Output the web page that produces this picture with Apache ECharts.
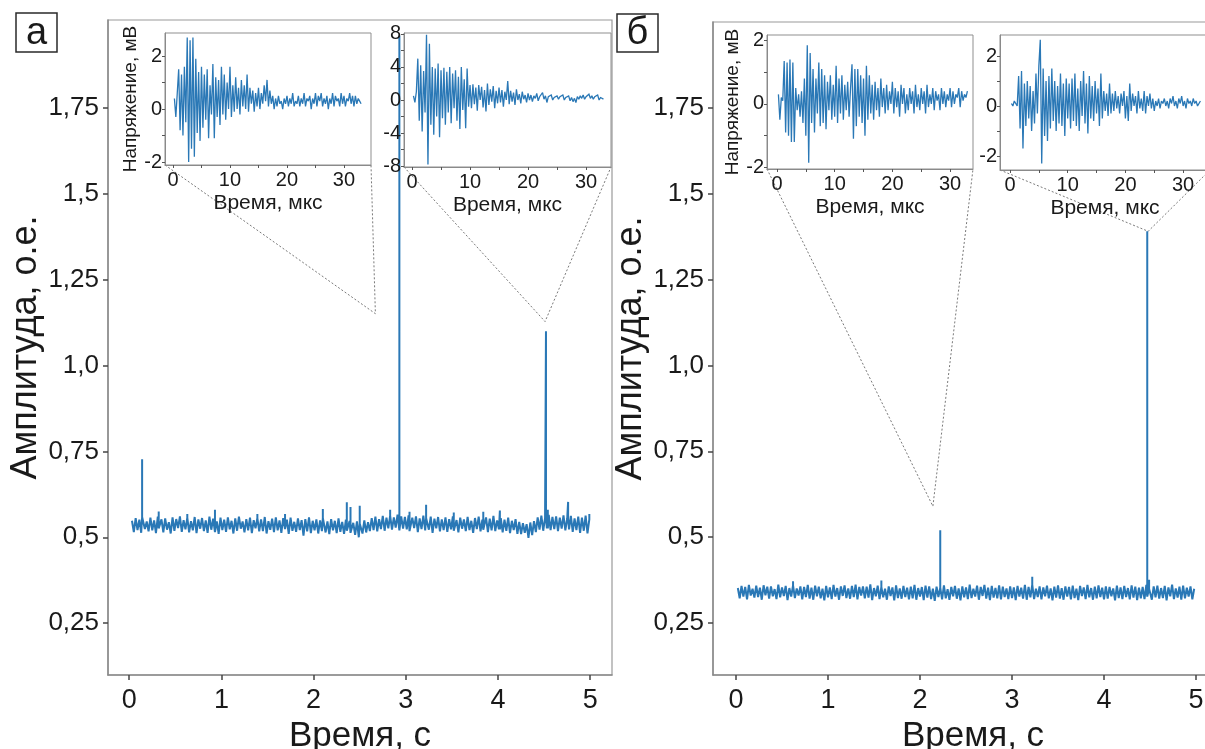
<!DOCTYPE html>
<html><head><meta charset="utf-8">
<script src="https://cdn.jsdelivr.net/npm/echarts@6/dist/echarts.min.js"></script>
<style>html,body{margin:0;padding:0;background:#fff}#c{width:1205px;height:749px}</style>
</head><body><div id="c"></div>
<script>
const FONT = "'Liberation Sans', Arial, sans-serif";
const TXT = '#1a1a1a';
const LINE = '#2a78b6';

// ---------- main traces (time in s, amplitude in a.u.) ----------
const timeStartA = 0.03, timeStepA = 0.02;
const amplitudeA = [
0.548,0.515,0.556,0.521,0.551,0.513,0.559,0.524,0.546,0.517,
0.557,0.520,0.549,0.512,0.560,0.526,0.552,0.514,0.555,0.522,
0.544,0.511,0.558,0.519,0.553,0.527,0.561,0.516,0.550,0.523,
0.557,0.514,0.547,0.520,0.559,0.512,0.552,0.525,0.556,0.518,
0.549,0.513,0.560,0.522,0.554,0.515,0.546,0.510,0.557,0.521,
0.551,0.516,0.558,0.523,0.548,0.511,0.555,0.519,0.560,0.525,
0.546,0.514,0.553,0.520,0.557,0.512,0.550,0.526,0.556,0.517,
0.552,0.518,0.559,0.511,0.547,0.522,0.554,0.515,0.558,0.520,
0.549,0.513,0.556,0.524,0.551,0.510,0.557,0.519,0.545,0.516,
0.555,0.521,0.550,0.505,0.553,0.517,0.558,0.512,0.548,0.520,
0.552,0.511,0.549,0.518,0.556,0.514,0.546,0.509,0.553,0.520,
0.548,0.512,0.555,0.516,0.545,0.510,0.551,0.519,0.547,0.513,
0.542,0.507,0.546,0.500,0.540,0.511,0.549,0.514,0.544,0.518,
0.556,0.521,0.560,0.517,0.553,0.524,0.562,0.519,0.557,0.526,
0.563,0.522,0.558,0.528,0.566,0.520,0.561,0.525,0.559,0.523,
0.564,0.518,0.557,0.527,0.561,0.515,0.555,0.524,0.563,0.520,
0.556,0.522,0.560,0.513,0.554,0.526,0.559,0.517,0.552,0.521,
0.558,0.516,0.553,0.523,0.561,0.519,0.550,0.514,0.557,0.525,
0.552,0.518,0.559,0.521,0.548,0.513,0.556,0.524,0.560,0.517,
0.551,0.522,0.558,0.515,0.554,0.520,0.562,0.518,0.549,0.523,
0.556,0.514,0.551,0.519,0.557,0.512,0.548,0.521,0.553,0.510,
0.545,0.509,0.541,0.513,0.538,0.498,0.543,0.506,0.547,0.515,
0.558,0.522,0.563,0.519,0.556,0.526,0.565,0.521,0.559,0.524,
0.561,0.518,0.557,0.525,0.564,0.520,0.554,0.523,0.562,0.516,
0.555,0.521,0.560,0.513,0.557,0.519,0.563,0.511,0.552
];
const spikeTimesA = [0.14, 0.32, 0.63, 0.93, 1.39, 1.69, 2.10, 2.36, 2.40, 2.50, 2.83, 2.93, 3.04, 3.22, 3.52, 3.84, 4.02, 4.52, 4.54, 4.76, 4.99];
const spikePeaksA = [0.727, 0.575, 0.568, 0.580, 0.568, 0.568, 0.582, 0.602, 0.588, 0.592, 0.580, 1.960, 0.574, 0.595, 0.572, 0.574, 0.578, 1.100, 0.580, 0.603, 0.568];

const timeStartB = 0.02, timeStepB = 0.02;
const amplitudeB = [
0.352,0.322,0.358,0.327,0.355,0.319,0.361,0.330,0.350,0.324,
0.359,0.326,0.353,0.318,0.360,0.331,0.356,0.321,0.357,0.328,
0.349,0.320,0.362,0.325,0.354,0.329,0.358,0.317,0.352,0.327,
0.360,0.323,0.351,0.330,0.357,0.319,0.355,0.326,0.361,0.321,
0.353,0.318,0.359,0.328,0.356,0.322,0.350,0.316,0.358,0.325,
0.354,0.320,0.361,0.327,0.352,0.318,0.357,0.329,0.360,0.323,
0.351,0.321,0.358,0.326,0.362,0.319,0.355,0.330,0.357,0.322,
0.356,0.324,0.363,0.317,0.352,0.328,0.359,0.320,0.355,0.325,
0.350,0.318,0.357,0.329,0.354,0.316,0.360,0.323,0.351,0.321,
0.358,0.326,0.353,0.319,0.356,0.322,0.361,0.318,0.352,0.327,
0.355,0.317,0.359,0.324,0.357,0.320,0.350,0.315,0.356,0.326,
0.353,0.319,0.360,0.322,0.349,0.318,0.355,0.328,0.358,0.321,
0.351,0.316,0.357,0.325,0.354,0.320,0.362,0.323,0.350,0.327,
0.359,0.318,0.355,0.329,0.361,0.321,0.353,0.317,0.358,0.324,
0.352,0.322,0.360,0.319,0.356,0.326,0.351,0.320,0.357,0.323,
0.354,0.317,0.358,0.327,0.353,0.321,0.361,0.318,0.355,0.325,
0.362,0.320,0.350,0.326,0.357,0.319,0.354,0.328,0.359,0.322,
0.351,0.316,0.356,0.324,0.360,0.321,0.352,0.318,0.357,0.327,
0.355,0.319,0.359,0.323,0.350,0.317,0.358,0.329,0.354,0.320,
0.361,0.325,0.352,0.318,0.356,0.322,0.360,0.326,0.353,0.319,
0.357,0.321,0.355,0.328,0.351,0.316,0.359,0.323,0.354,0.320,
0.358,0.326,0.352,0.319,0.360,0.324,0.356,0.317,0.353,0.322,
0.355,0.320,0.361,0.327,0.350,0.318,0.357,0.325,0.359,0.321,
0.352,0.323,0.358,0.316,0.354,0.328,0.362,0.320,0.351,0.324,
0.356,0.318,0.359,0.322,0.353,0.327,0.357,0.319,0.350
];
const spikeTimesB = [0.62, 1.58, 2.22, 3.22, 4.47, 4.49];
const spikePeaksB = [0.372, 0.374, 0.520, 0.385, 1.390, 0.376];

// ---------- inset waveforms (time in µs, voltage in mV) ----------
const insetTimeStart = 0.25, insetTimeStep = 0.25;
const voltageA1 = [
0.4,-0.3,0.6,1.5,-0.8,1.3,-1.0,1.6,-0.5,2.7,
-2.0,2.6,-1.5,2.7,-1.8,1.9,-0.9,1.4,-1.2,1.6,
-0.7,1.3,-0.4,1.5,-1.1,0.9,-0.2,1.7,-1.1,1.2,
-0.3,1.1,-0.6,1.6,-0.2,1.3,-0.4,1.0,0.0,1.6,
-0.3,0.9,-0.1,1.2,0.0,0.8,-0.2,1.1,0.1,0.9,
0.0,1.3,-0.1,0.8,0.2,0.7,-0.1,0.6,0.1,0.8,
0.0,0.6,0.2,0.9,0.3,1.1,0.1,0.7,0.2,0.5,
0.0,0.4,0.1,0.5,0.2,0.3,0.0,0.4,0.2,0.5,
0.1,0.4,0.2,0.6,0.1,0.3,0.2,0.5,0.1,0.4,
0.2,0.6,0.1,0.4,0.3,0.5,0.0,0.4,0.2,0.6,
0.1,0.5,0.3,0.6,0.1,0.4,0.2,0.5,0.0,0.4,
0.2,0.6,0.1,0.5,0.3,0.4,0.1,0.6,0.2,0.5,
0.1,0.4,0.3,0.6,0.2,0.5,0.1,0.5,0.2,0.4,
0.3,0.2
];
const voltageA2 = [
0.5,-0.3,1.0,5.0,-2.5,4.2,-3.8,3.5,-1.5,7.9,
-7.8,6.8,-3.0,4.0,-4.2,3.8,-2.0,4.4,-4.5,3.6,
-2.2,3.9,-3.0,3.4,-1.5,4.0,-2.8,3.2,-1.0,3.6,
-2.5,2.8,-3.5,4.0,-1.2,2.5,-3.4,3.8,-0.8,1.8,
-1.0,1.9,-0.5,1.5,-1.3,1.8,0.0,1.6,-0.9,1.2,
-1.4,2.0,-0.6,1.3,-0.2,1.7,-1.0,1.1,-0.4,1.5,
-0.3,1.2,-0.8,1.0,0.0,2.3,-0.5,1.1,-0.2,0.9,
-0.6,1.3,0.0,0.7,-0.4,1.0,0.1,0.6,-0.3,0.8,
0.0,0.6,-0.2,0.5,0.2,0.8,-0.1,0.4,0.3,0.9,
0.1,0.5,-0.3,0.4,0.2,0.6,0.0,0.3,0.4,0.5,
0.1,0.4,0.2,0.6,0.0,0.3,0.2,0.5,-0.1,0.3,
-0.2,0.2,-0.3,0.4,0.1,0.5,0.2,0.6,0.1,0.4,
0.3,0.7,0.2,0.5,0.1,0.4,0.2,0.6,0.0,0.3,
0.2,0.1
];
const voltageB1 = [
0.3,-0.5,0.2,0.1,1.35,-0.9,1.3,-1.0,1.4,-1.2,
1.3,-1.2,0.5,-0.2,0.3,-0.4,0.4,-0.6,0.8,-1.0,
1.85,-1.85,1.6,-0.6,1.1,-0.9,0.8,-0.3,1.3,-0.7,
1.1,-0.6,0.9,-0.8,0.7,-0.2,0.9,-0.5,0.6,-0.4,
1.2,-0.6,0.8,-0.3,0.9,-0.5,0.6,-0.2,0.7,-0.4,
0.5,1.25,-1.1,1.1,-0.7,1.1,-0.4,0.9,-0.6,0.8,
-1.0,1.2,-0.5,0.9,-0.3,0.6,-0.5,0.7,-0.2,0.5,
-0.4,0.8,-0.1,0.5,-0.3,0.6,-0.2,0.4,0.0,0.7,
-0.3,0.5,-0.1,0.4,-0.4,0.6,0.0,0.5,-0.3,0.3,
-0.2,0.5,0.0,0.4,-0.3,0.6,-0.1,0.3,-0.2,0.5,
0.0,0.4,-0.3,0.6,-0.1,0.3,0.0,0.5,-0.2,0.4,
0.1,0.3,-0.2,0.5,0.0,0.4,-0.1,0.3,0.1,0.5,
-0.1,0.4,0.0,0.3,0.2,0.5,-0.1,0.4,0.1,0.3,
0.2,0.4
];
const voltageB2 = [
0.1,0.0,0.2,0.1,0.0,1.2,-0.9,1.4,-1.7,0.9,
-0.8,1.0,-0.5,0.8,-1.0,0.6,-0.7,1.3,-0.3,1.6,
2.65,-2.3,1.5,-1.2,1.0,-1.4,1.2,-0.9,1.5,-0.6,
1.0,-1.0,0.8,-0.7,1.3,-0.8,0.9,-1.2,1.1,-0.5,
0.9,-0.9,1.1,-0.6,1.3,-0.8,0.7,-1.0,1.0,-0.4,
1.4,-0.7,0.9,-1.1,1.2,-0.5,0.8,-0.6,1.0,-0.3,
0.7,-0.8,1.3,-0.5,0.6,-0.2,0.5,-0.4,0.9,-0.3,
0.5,-0.2,0.6,-0.1,0.4,-0.3,0.5,0.0,0.6,-0.5,
0.4,-0.6,0.9,-0.2,0.5,0.0,0.4,-0.3,0.6,-0.1,
0.3,-0.2,0.6,-0.3,0.4,0.0,0.5,-0.1,0.3,-0.2,
0.2,0.0,0.3,-0.1,0.2,0.1,0.3,0.0,0.2,-0.1,
0.3,0.1,0.4,0.0,0.2,-0.1,0.3,0.1,0.4,0.0,
0.2,-0.1,0.3,0.1,0.2,0.0,0.3,0.1,0.2,0.0,
0.1,0.2
];

// ---------- tick labels ----------
const mainXTicks = [0, 1, 2, 3, 4, 5];
const mainYTicks = [0.25, 0.5, 0.75, 1.0, 1.25, 1.5, 1.75];
const mainYTickLabels = ['0,25', '0,5', '0,75', '1,0', '1,25', '1,5', '1,75'];
const insetXLabels = [0, 10, 20, 30];
const insetXTicks = [0, 5, 10, 15, 20, 25, 30];
const insetA1YLabels = [-2, 0, 2];
const insetA1YTicks = [-2, -1, 0, 1, 2];
const insetA2YLabels = [-8, -4, 0, 4, 8];
const insetA2YTicks = [-8, -6, -4, -2, 0, 2, 4, 6, 8];
const insetB1YLabels = [-2, 0, 2];
const insetB1YTicks = [-2, -1, 0, 1, 2];
const insetB2YLabels = [-2, 0, 2];
const insetB2YTicks = [-2, -1, 0, 1, 2];

// points (data coords of main panels) where the zoom connector lines converge
const zoomPointA1 = [2.67, 1.151];
const zoomPointA2 = [4.51, 1.128];
const zoomPointB1 = [2.14, 0.59];
const zoomPointB2 = [4.48, 1.39];

// ---------- helpers ----------
function buildMain(t0, step, vals, sT, sP) {
  const pts = vals.map((v, i) => ({ x: t0 + i * step, y: v, o: 0 }));
  sT.forEach((t, j) => {
    const idx = Math.min(vals.length - 1, Math.max(0, Math.round((t - t0) / step)));
    const base = vals[idx];
    pts.push({ x: t, y: base, o: 1 }, { x: t, y: sP[j], o: 2 }, { x: t, y: base, o: 3 });
  });
  pts.sort((a, b) => (a.x - b.x) || (a.o - b.o));
  return pts.map(p => [p.x, p.y]);
}
function buildInset(vals) {
  return vals.map((v, i) => [insetTimeStart + i * insetTimeStep, v]);
}
function mainX(gi, min, max) {
  return {
    type: 'value', gridIndex: gi, min: min, max: max,
    axisLine: { show: true, onZero: false, lineStyle: { color: '#8a8a8a', width: 1.5 } },
    axisTick: { show: true, length: 5, customValues: mainXTicks, lineStyle: { color: '#444', width: 1.5 } },
    axisLabel: { show: true, customValues: mainXTicks, fontSize: 27, color: TXT, fontFamily: FONT, margin: 12 },
    splitLine: { show: false },
    name: 'Время, с', nameLocation: 'middle', nameGap: 40,
    nameTextStyle: { fontSize: 35, color: TXT, fontFamily: FONT }
  };
}
function mainY(gi, min, max) {
  return {
    type: 'value', gridIndex: gi, min: min, max: max,
    axisLine: { show: true, onZero: false, lineStyle: { color: '#8a8a8a', width: 1.5 } },
    axisTick: { show: true, length: 5, customValues: mainYTicks, lineStyle: { color: '#444', width: 1.5 } },
    axisLabel: {
      show: true, customValues: mainYTicks, fontSize: 26, color: TXT, fontFamily: FONT, margin: 9,
      formatter: v => { const k = mainYTicks.findIndex(t => Math.abs(t - v) < 1e-6); return k >= 0 ? mainYTickLabels[k] : ''; }
    },
    splitLine: { show: false },
    name: 'Амплитуда, о.е.', nameLocation: 'middle', nameGap: 62,
    nameTextStyle: { fontSize: 36, color: TXT, fontFamily: FONT }
  };
}
function insetX(gi, min, max) {
  return {
    type: 'value', gridIndex: gi, min: min, max: max, zlevel: 1, z: 5,
    axisLine: { show: true, onZero: false, lineStyle: { color: '#8a8a8a', width: 1 } },
    axisTick: { show: true, length: 3, customValues: insetXTicks, lineStyle: { color: '#555', width: 1 } },
    axisLabel: { show: true, customValues: insetXLabels, fontSize: 20, color: TXT, fontFamily: FONT, margin: 5 },
    splitLine: { show: false },
    name: 'Время, мкс', nameLocation: 'middle', nameGap: 28,
    nameTextStyle: { fontSize: 21, color: TXT, fontFamily: FONT }
  };
}
function insetY(gi, min, max, labels, ticks, title) {
  const a = {
    type: 'value', gridIndex: gi, min: min, max: max, zlevel: 1, z: 5,
    axisLine: { show: true, onZero: false, lineStyle: { color: '#8a8a8a', width: 1 } },
    axisTick: { show: true, length: 3, customValues: ticks, lineStyle: { color: '#555', width: 1 } },
    axisLabel: { show: true, customValues: labels, fontSize: 20, color: TXT, fontFamily: FONT, margin: 3 },
    splitLine: { show: false }
  };
  if (title) {
    a.name = 'Напряжение, мВ'; a.nameLocation = 'middle'; a.nameGap = 24;
    a.nameTextStyle = { fontSize: 19, color: TXT, fontFamily: FONT };
  }
  return a;
}
function mainGrid(l, t, w, h) {
  return { left: l, top: t, width: w, height: h, show: true, borderColor: '#9a9a9a', borderWidth: 1.2,
    backgroundColor: 'transparent', containLabel: false, outerBoundsMode: 'none' };
}
function insetGrid(l, t, w, h) {
  return { left: l, top: t, width: w, height: h, show: true, borderColor: '#8f8f8f', borderWidth: 1,
    backgroundColor: '#ffffff', containLabel: false, outerBoundsMode: 'none', zlevel: 1, z: 4 };
}
function lineSeries(xi, yi, data, width, inset) {
  return { type: 'line', xAxisIndex: xi, yAxisIndex: yi, data: data, showSymbol: false, symbol: 'none',
    lineStyle: { color: LINE, width: width, join: 'miter', miterLimit: 2 }, itemStyle: { color: LINE },
    zlevel: inset ? 1 : 0, z: inset ? 6 : 2, silent: true, animation: false, clip: true };
}

const insetRects = [
  [165, 33, 206, 132],
  [404, 33, 207, 134],
  [767, 35, 206, 134],
  [1000, 35, 210, 135]
];

const chart = echarts.init(document.getElementById('c'), null, { renderer: 'canvas' });
chart.setOption({
  animation: false,
  backgroundColor: '#ffffff',
  grid: [
    mainGrid(108, 20, 504, 655),
    mainGrid(713, 22, 520, 653),
    insetGrid(...insetRects[0]),
    insetGrid(...insetRects[1]),
    insetGrid(...insetRects[2]),
    insetGrid(...insetRects[3])
  ],
  xAxis: [
    mainX(0, -0.23, 5.236),
    mainX(1, -0.25, 5.402),
    insetX(2, -1.4, 34.74),
    insetX(3, -1.38, 34.3),
    insetX(4, -1.73, 33.97),
    insetX(5, -1.73, 34.66)
  ],
  yAxis: [
    mainY(0, 0.099, 2.006),
    mainY(1, 0.099, 1.999),
    insetY(2, -2.11, 2.87, insetA1YLabels, insetA1YTicks, true),
    insetY(3, -8.1, 8.1, insetA2YLabels, insetA2YTicks, false),
    insetY(4, -2.05, 2.17, insetB1YLabels, insetB1YTicks, true),
    insetY(5, -2.56, 2.84, insetB2YLabels, insetB2YTicks, false)
  ],
  series: [
    lineSeries(0, 0, buildMain(timeStartA, timeStepA, amplitudeA, spikeTimesA, spikePeaksA), 2.0, false),
    lineSeries(1, 1, buildMain(timeStartB, timeStepB, amplitudeB, spikeTimesB, spikePeaksB), 2.0, false),
    lineSeries(2, 2, buildInset(voltageA1), 1.3, true),
    lineSeries(3, 3, buildInset(voltageA2), 1.3, true),
    lineSeries(4, 4, buildInset(voltageB1), 1.3, true),
    lineSeries(5, 5, buildInset(voltageB2), 1.3, true)
  ]
});

// connectors + panel letters
function connector(rect, gridIndex, pt) {
  const p = chart.convertToPixel({ gridIndex: gridIndex }, pt);
  const bl = [rect[0], rect[1] + rect[3]];
  const br = [rect[0] + rect[2], rect[1] + rect[3]];
  return { type: 'polyline', silent: true, z: 1,
    shape: { points: [bl, p, br] },
    style: { stroke: '#7a7a7a', lineWidth: 1, lineDash: [2, 2], fill: null } };
}
function letterBox(x, y, w, h, ch) {
  return [
    { type: 'rect', shape: { x: x, y: y, width: w, height: h }, style: { fill: '#fff', stroke: '#2a2a2a', lineWidth: 1.5 }, z: 10 },
    { type: 'text', x: x + w / 2, y: y + h / 2 + 1, z: 11,
      style: { text: ch, fontSize: 38, fontFamily: FONT, fill: '#1a1a1a', align: 'center', verticalAlign: 'middle' } }
  ];
}
chart.setOption({
  graphic: [
    connector(insetRects[0], 0, zoomPointA1),
    connector(insetRects[1], 0, zoomPointA2),
    connector(insetRects[2], 1, zoomPointB1),
    connector(insetRects[3], 1, zoomPointB2),
    ...letterBox(16, 13, 41, 39, 'а'),
    ...letterBox(617, 14, 41, 38, 'б')
  ]
});
</script>
</body></html>
